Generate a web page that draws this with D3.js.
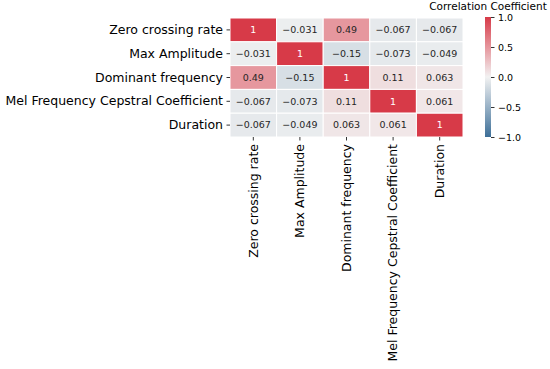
<!DOCTYPE html>
<html>
<head>
<meta charset="utf-8">
<script src="https://cdn.jsdelivr.net/npm/d3@7"></script>
<style>
  body { margin: 0; background: #fff; }
  svg text { font-family: "DejaVu Sans", sans-serif; }
</style>
</head>
<body>
<div id="chart"></div>
<script>
// feature names (rows and columns)
var features = ["Zero crossing rate", "Max Amplitude", "Dominant frequency",
                "Mel Frequency Cepstral Coefficient", "Duration"];

// correlation matrix, one row per feature
var zeroCrossingRow = [1, -0.031, 0.49, -0.067, -0.067];
var maxAmplitudeRow = [-0.031, 1, -0.15, -0.073, -0.049];
var dominantFreqRow = [0.49, -0.15, 1, 0.11, 0.063];
var mfccRow = [-0.067, -0.073, 0.11, 1, 0.061];
var durationRow = [-0.067, -0.049, 0.063, 0.061, 1];
var corrRows = [zeroCrossingRow, maxAmplitudeRow, dominantFreqRow, mfccRow, durationRow];

var colorbarTicks = [-1, -0.5, 0, 0.5, 1];
var colorbarTitle = "Correlation Coefficient";

var svgWidth = 550, svgHeight = 369;

var svg = d3.select("#chart")
  .append("svg")
  .attr("width", svgWidth)
  .attr("height", svgHeight);

var grid = { left: 230, top: 18, width: 233, height: 119 };

var xScale = d3.scaleBand()
  .domain(features)
  .range([grid.left, grid.left + grid.width]);

var yScale = d3.scaleBand()
  .domain(features)
  .range([grid.top, grid.top + grid.height]);

// diverging blue - light - red, like seaborn's diverging_palette
var colorScale = d3.scaleLinear()
  .domain([-1, -0.5, 0, 0.5, 1])
  .range(["#3d6f98", "#98b1c6", "#f2f2f2", "#e6959c", "#d73a48"])
  .interpolate(d3.interpolateRgb);

var cells = [];
corrRows.forEach(function(row, i) {
  row.forEach(function(v, j) {
    cells.push({ row: features[i], col: features[j], value: v });
  });
});

svg.append("g")
  .selectAll("rect")
  .data(cells)
  .enter()
  .append("rect")
  .attr("x", d => xScale(d.col))
  .attr("y", d => yScale(d.row))
  .attr("width", xScale.bandwidth())
  .attr("height", yScale.bandwidth())
  .attr("fill", d => colorScale(d.value))
  .attr("stroke", "#fff")
  .attr("stroke-width", 1);

var fmt = function(v) {
  return String(v).replace("-", "\u2212");
};

svg.append("g")
  .selectAll("text")
  .data(cells)
  .enter()
  .append("text")
  .attr("x", d => xScale(d.col) + xScale.bandwidth() / 2)
  .attr("y", d => yScale(d.row) + yScale.bandwidth() / 2)
  .attr("dy", "0.35em")
  .attr("text-anchor", "middle")
  .attr("font-size", "9.5px")
  .attr("fill", d => d.value > 0.8 ? "#fff" : "#262626")
  .text(d => fmt(d.value));

// axes
var leftAxis = d3.axisLeft(yScale).tickSize(3.5).tickPadding(3.5);
var yAxisG = svg.append("g")
  .attr("transform", `translate(${grid.left}, 0)`)
  .call(leftAxis);
yAxisG.select(".domain").remove();
yAxisG.selectAll("text")
  .attr("font-size", "12.5px")
  .attr("fill", "#000");
yAxisG.selectAll("line").attr("stroke", "#000").attr("stroke-width", 0.8);

var bottomAxis = d3.axisBottom(xScale).tickSize(3.5).tickPadding(3.5);
var xAxisG = svg.append("g")
  .attr("transform", `translate(0, ${grid.top + grid.height})`)
  .call(bottomAxis);
xAxisG.select(".domain").remove();
xAxisG.selectAll("line").attr("stroke", "#000").attr("stroke-width", 0.8);
xAxisG.selectAll("text")
  .attr("font-size", "12.5px")
  .attr("fill", "#000")
  .attr("text-anchor", "end")
  .attr("transform", "rotate(-90)")
  .attr("x", -7)
  .attr("y", 0)
  .attr("dy", "0.35em");

// colorbar
var cbar = { left: 485, top: 17, width: 6, height: 120 };
var cbScale = d3.scaleLinear()
  .domain([-1, 1])
  .range([cbar.top + cbar.height, cbar.top]);

var defs = svg.append("defs");
var grad = defs.append("linearGradient")
  .attr("id", "cbgrad")
  .attr("x1", "0").attr("y1", "1")
  .attr("x2", "0").attr("y2", "0");
d3.range(0, 1.0001, 0.05).forEach(function(t) {
  grad.append("stop")
    .attr("offset", t)
    .attr("stop-color", colorScale(-1 + 2 * t));
});

svg.append("rect")
  .attr("x", cbar.left)
  .attr("y", cbar.top)
  .attr("width", cbar.width)
  .attr("height", cbar.height)
  .attr("fill", "url(#cbgrad)");

var cbAxis = d3.axisRight(cbScale)
  .tickValues(colorbarTicks)
  .tickSize(3.5)
  .tickPadding(3.5)
  .tickFormat(d => d3.format(".1f")(d).replace("-", "\u2212"));
var cbG = svg.append("g")
  .attr("transform", `translate(${cbar.left + cbar.width}, 0)`)
  .call(cbAxis);
cbG.select(".domain").remove();
cbG.selectAll("line").attr("stroke", "#000").attr("stroke-width", 0.8);
cbG.selectAll("text").attr("font-size", "9.5px").attr("fill", "#000");

svg.append("text")
  .attr("x", cbar.left + cbar.width / 2)
  .attr("y", 10)
  .attr("text-anchor", "middle")
  .attr("font-size", "10.5px")
  .attr("fill", "#000")
  .text(colorbarTitle);
</script>
</body>
</html>
